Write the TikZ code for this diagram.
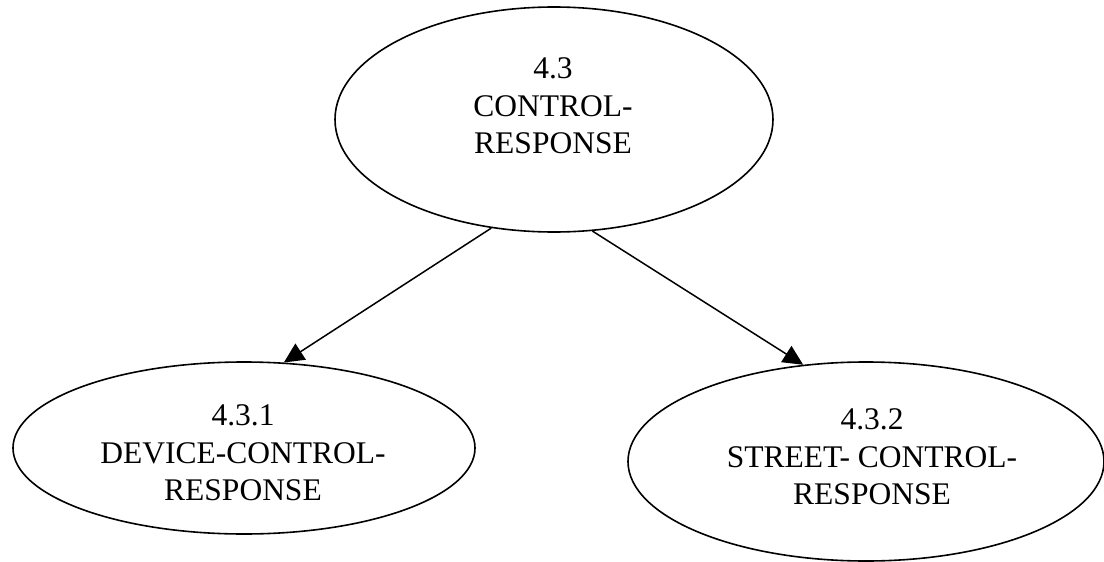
\documentclass[tikz,border=0pt]{standalone}
\usepackage{fontspec}
\setmainfont{Liberation Serif}
\usetikzlibrary{shapes.geometric,arrows.meta}

\tikzset{
  proc/.style={ellipse, draw, line width=1.6pt, inner sep=0pt},
  proclabel/.style={align=center, inner sep=0pt, font=\fontsize{31.5}{37.5}\selectfont},
  flow/.style={line width=1.5pt, -{Triangle[length=20pt,width=19pt]}}
}

\begin{document}
\begin{tikzpicture}[x=1pt,y=-1pt]
  \path[use as bounding box] (0,0) rectangle (1104,562);

  % process bubbles
  \node[proc, minimum width=438pt, minimum height=225pt] (cr)  at (554,119.5) {};
  \node[proc, minimum width=462pt, minimum height=172pt] (dcr) at (244,448) {};
  \node[proc, minimum width=476pt, minimum height=199pt] (scr) at (866,461.5) {};

  % bubble titles
  \node[proclabel] (crt)  at (553,106) {4.3\\CONTROL-\\RESPONSE};
  \node[proclabel] (dcrt) at (243,453) {4.3.1\\DEVICE-CONTROL-\\RESPONSE};
  \node[proclabel] (scrt) at (872,457) {4.3.2\\STREET- CONTROL-\\RESPONSE};

  % decomposition links
  \draw[flow] (cr.-120) -- (dcr.65.6);
  \draw[flow] (cr.-71.7) -- (scr.123.6);
\end{tikzpicture}
\end{document}
